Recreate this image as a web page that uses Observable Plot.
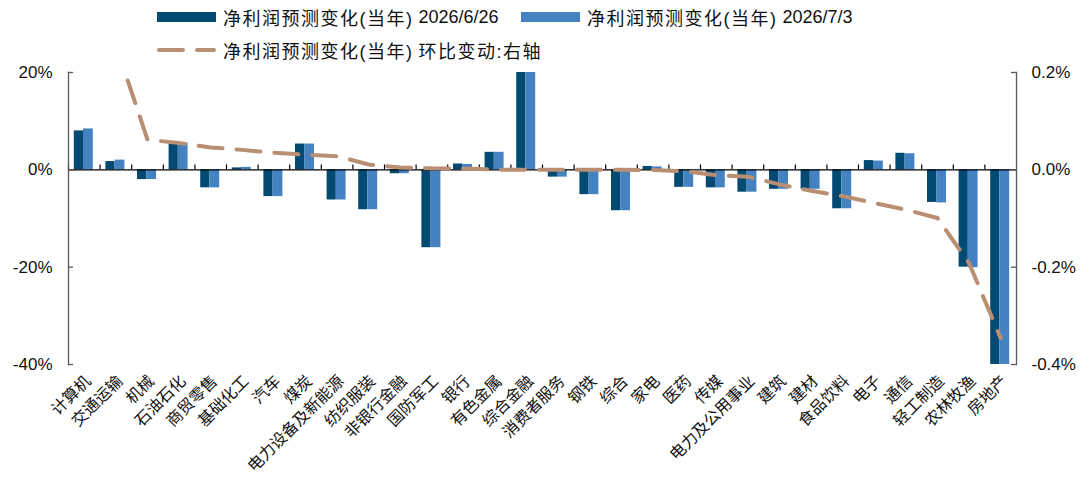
<!DOCTYPE html>
<html>
<head>
<meta charset="utf-8">
<script src="https://cdn.jsdelivr.net/npm/d3@7"></script>
<script src="https://cdn.jsdelivr.net/npm/@observablehq/plot@0.6"></script>
<style>
  html, body { margin: 0; padding: 0; background: #fff; }
  body { font-family: 'Liberation Sans', 'Noto Sans CJK SC', sans-serif; }
  #legend { position: relative; width: 1091px; height: 60px; }
  .item { position: absolute; display: flex; align-items: center; font-size: 18px; color: #111; white-space: nowrap; }
  .item .cjk { letter-spacing: 1.5px; }
  .sw { width: 59px; height: 10px; margin-right: 7px; }
</style>
</head>
<body>
<div id="legend"></div>
<div id="chart"></div>
<script>
const categories = ["计算机","交通运输","机械","石油石化","商贸零售","基础化工","汽车","煤炭","电力设备及新能源","纺织服装","非银行金融","国防军工","银行","有色金属","综合金融","消费者服务","钢铁","综合","家电","医药","传媒","电力及公用事业","建筑","建材","食品饮料","电子","通信","轻工制造","农林牧渔","房地产"];
// 净利润预测变化(当年) 2026/6/26, %
const forecast0626 = [8.0,1.7,-2.0,5.4,-3.7,0.4,-5.5,5.3,-6.2,-8.2,-0.8,-16.0,1.2,3.6,20.0,-1.5,-5.1,-8.4,0.7,-3.6,-3.7,-4.6,-4.0,-4.0,-8.0,1.9,3.4,-6.7,-20.0,-40.0];
// 净利润预测变化(当年) 2026/7/3, %
const forecast0703 = [8.4,2.0,-2.0,5.5,-3.7,0.5,-5.5,5.3,-6.2,-8.2,-0.8,-16.0,1.1,3.6,20.0,-1.5,-5.1,-8.4,0.6,-3.6,-3.7,-4.6,-4.0,-4.0,-8.0,1.8,3.3,-6.8,-20.1,-40.0];
// 环比变动 (右轴), %
const wowChange = [0.40,0.256,0.062,0.055,0.046,0.041,0.035,0.031,0.028,0.011,0.005,0.003,0.0025,0.0005,0,0,0,0,-0.0005,-0.003,-0.011,-0.014,-0.030,-0.043,-0.054,-0.068,-0.082,-0.099,-0.192,-0.346];
const leftTicks = [20, 0, -20, -40];

const seriesPrefix = "净利润预测变化(当年)";
const seriesSuffixes = ["2026/6/26", "2026/7/3", "环比变动:右轴"];
const colors = {dark: "#034a72", light: "#4582c1", line: "#b98f74"};

const rows = categories.map((c, i) => ({cat: c, a: forecast0626[i], b: forecast0703[i], chg: wowChange[i]}));

// legend
const legend = document.getElementById("legend");
legend.innerHTML = `
  <div class="item" style="left:157px; top:6px; height:22px;"><div class="sw" style="background:${colors.dark}"></div><span class="cjk">${seriesPrefix}</span>&nbsp;${seriesSuffixes[0]}</div>
  <div class="item" style="left:521px; top:6px; height:22px;"><div class="sw" style="background:${colors.light}"></div><span class="cjk">${seriesPrefix}</span>&nbsp;${seriesSuffixes[1]}</div>
  <div class="item" style="left:157px; top:39px; height:22px;"><svg width="59" height="10" style="margin-right:7px"><line x1="2" y1="5" x2="57" y2="5" stroke="${colors.line}" stroke-width="4" stroke-dasharray="24,14" stroke-linecap="round"/></svg><span class="cjk">${seriesPrefix}</span>&nbsp;<span class="cjk">${seriesSuffixes[2]}</span></div>
`;

const W = 1091, mL = 68, mR = 75;
const plotW = W - mL - mR;
const bw = plotW / categories.length;

const chart = Plot.plot({
  width: W,
  height: 421,
  marginTop: 12,
  marginBottom: 117,
  marginLeft: mL,
  marginRight: mR,
  style: {fontFamily: "'Liberation Sans', 'Noto Sans CJK SC', sans-serif", fontSize: "17px", color: "#111", background: "#fff"},
  x: {domain: categories, padding: 0, round: false, axis: null},
  y: {domain: [-40, 20]},
  marks: [
    Plot.barY(rows, {x: "cat", y: "a", fill: colors.dark, insetLeft: bw/2 - 10, insetRight: bw/2 + 0.8}),
    Plot.barY(rows, {x: "cat", y: "b", fill: colors.light, insetLeft: bw/2 - 0.8, insetRight: bw/2 - 9}),
    Plot.ruleY([0], {stroke: "#000", strokeWidth: 1.3}),
    Plot.ruleX(rows, {x: "cat", y1: 0, y2: 1, dx: -bw/2, stroke: "#000", strokeWidth: 1.2}),
    Plot.line(rows, {x: "cat", y: d => d.chg * 100, stroke: colors.line, strokeWidth: 4, strokeDasharray: "24,14", strokeLinecap: "round", clip: true}),
    Plot.frame({anchor: "left", stroke: "#595959", strokeWidth: 1.3}),
    Plot.frame({anchor: "right", stroke: "#595959", strokeWidth: 1.3}),
    Plot.tickY(leftTicks, {y: d => d, insetRight: plotW - 5, stroke: "#595959", strokeWidth: 1.3}),
    Plot.tickY(leftTicks, {y: d => d, insetLeft: plotW - 5, stroke: "#595959", strokeWidth: 1.3}),
    Plot.axisY({anchor: "left", ticks: leftTicks, tickSize: 0, tickPadding: 16, tickFormat: d => d + "%", fontSize: 17, label: null}),
    Plot.axisY({anchor: "right", ticks: leftTicks, tickSize: 0, tickPadding: 15, tickFormat: d => (d / 100).toFixed(1) + "%", fontSize: 17, label: null}),
    Plot.text(rows, {x: "cat", text: "cat", frameAnchor: "bottom", dy: 14, dx: 4, rotate: -45, textAnchor: "end", lineAnchor: "middle", fontSize: 16, fill: "#111", ariaLabel: "category-labels"})
  ]
});
d3.select(chart).selectAll("g[aria-label='category-labels'] text").style("letter-spacing", "3px");
document.getElementById("chart").appendChild(chart);
</script>
</body>
</html>
